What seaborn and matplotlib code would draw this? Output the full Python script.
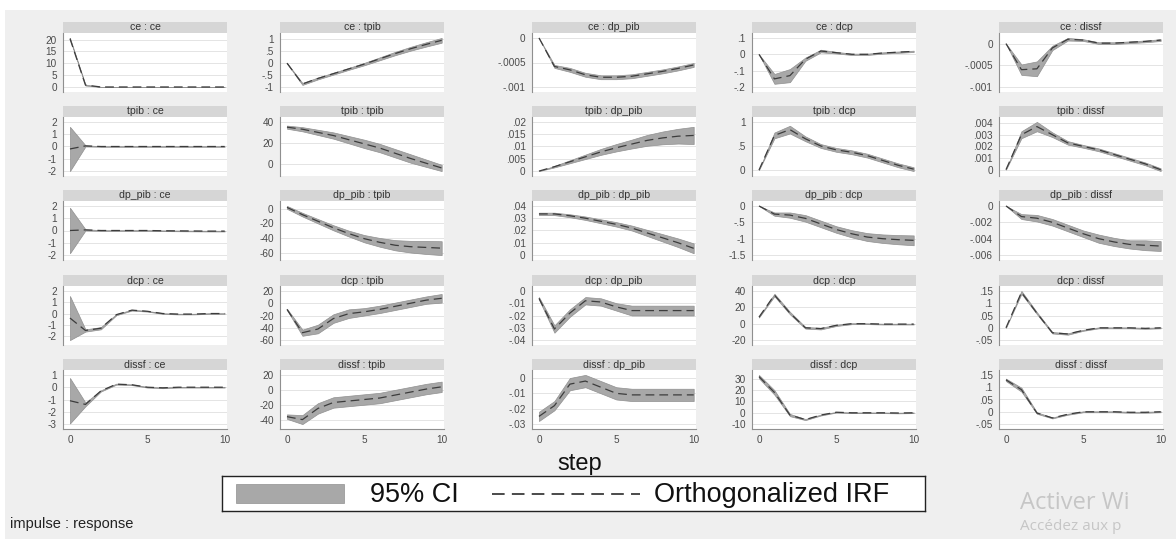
import numpy as np
import pandas as pd
import matplotlib
matplotlib.use("Agg")
import matplotlib.pyplot as plt
import seaborn as sns
from matplotlib.patches import Rectangle

# ---------------- data ----------------
steps = list(range(11))
variables = ["ce", "tpib", "dp_pib", "dcp", "dissf"]

# orthogonalized IRF estimates (impulse_response) and 95% CI half-widths
irf_ce_ce = [20.4, 0.8, 0, 0, 0, 0, 0, 0, 0, 0, 0]
hw_ce_ce = [0.3, 0.2, 0.05, 0.05, 0.05, 0.05, 0.05, 0.05, 0.05, 0.05, 0.05]
irf_ce_tpib = [0, -0.87, -0.64, -0.44, -0.24, -0.04, 0.18, 0.4, 0.6, 0.78, 0.95]
hw_ce_tpib = [0.01, 0.04, 0.04, 0.04, 0.04, 0.05, 0.06, 0.07, 0.08, 0.09, 0.1]
irf_ce_dp_pib = [0, -0.00058, -0.00065, -0.00075, -0.0008, -0.0008, -0.00078, -0.00073, -0.00068, -0.00062, -0.00055]
hw_ce_dp_pib = [0, 0.00003, 0.00004, 0.00004, 0.00004, 0.00004, 0.00004, 0.00004, 0.00004, 0.00004, 0.00004]
irf_ce_dcp = [0, -0.15, -0.13, -0.03, 0.02, 0.01, 0.0, 0.0, 0.008, 0.013, 0.018]
hw_ce_dcp = [0, 0.03, 0.04, 0.01, 0.008, 0.005, 0.004, 0.004, 0.004, 0.004, 0.004]
irf_ce_dissf = [0, -0.0006, -0.00058, -0.0001, 0.0001, 0.00008, 0.00001, 0.00001, 0.00003, 0.00005, 0.00008]
hw_ce_dissf = [0, 0.00012, 0.00017, 0.00005, 0.00003, 0.00002, 0.00002, 0.00002, 0.00002, 0.00002, 0.00002]

irf_tpib_ce = [-0.2, 0.05, 0, 0, 0, 0, 0, 0, 0, 0, 0]
hw_tpib_ce = [1.8, 0.05, 0.02, 0.02, 0.02, 0.02, 0.02, 0.02, 0.02, 0.02, 0.02]
irf_tpib_tpib = [35, 33, 30, 27, 23, 19, 15, 10, 5, 0.5, -4]
hw_tpib_tpib = [1.5, 2, 2.5, 3, 3.5, 4, 4, 4, 4, 3.5, 3]
irf_tpib_dp_pib = [0, 0.0018, 0.0038, 0.0058, 0.0078, 0.0095, 0.011, 0.0125, 0.0135, 0.0142, 0.0145]
hw_tpib_dp_pib = [0, 0.0003, 0.0006, 0.0009, 0.0012, 0.0015, 0.0018, 0.0022, 0.0026, 0.003, 0.0035]
irf_tpib_dcp = [0, 0.72, 0.84, 0.65, 0.5, 0.42, 0.37, 0.3, 0.2, 0.1, 0.02]
hw_tpib_dcp = [0, 0.06, 0.08, 0.05, 0.04, 0.04, 0.04, 0.04, 0.04, 0.04, 0.04]
irf_tpib_dissf = [0, 0.003, 0.0037, 0.003, 0.0023, 0.002, 0.0017, 0.0013, 0.0009, 0.0005, 0.0]
hw_tpib_dissf = [0, 0.0003, 0.0004, 0.0002, 0.00015, 0.00012, 0.00012, 0.00012, 0.00012, 0.00012, 0.00012]

irf_dp_pib_ce = [0, 0.05, 0, 0, 0, 0, -0.02, -0.03, -0.04, -0.05, -0.05]
hw_dp_pib_ce = [1.85, 0.05, 0.03, 0.03, 0.03, 0.03, 0.03, 0.03, 0.03, 0.03, 0.03]
irf_dp_pib_tpib = [2, -8, -17, -26, -34, -41, -46, -50, -52, -53, -54]
hw_dp_pib_tpib = [2, 2.5, 3, 3.5, 4, 5, 6, 7, 8, 9, 9.5]
irf_dp_pib_dp_pib = [0.0335, 0.0335, 0.032, 0.030, 0.0275, 0.025, 0.022, 0.018, 0.014, 0.01, 0.0055]
hw_dp_pib_dp_pib = [0.001, 0.001, 0.0012, 0.0014, 0.0016, 0.0018, 0.002, 0.0025, 0.003, 0.0035, 0.004]
irf_dp_pib_dcp = [0, -0.25, -0.28, -0.38, -0.55, -0.72, -0.85, -0.95, -1.0, -1.03, -1.05]
hw_dp_pib_dcp = [0, 0.05, 0.08, 0.1, 0.1, 0.1, 0.11, 0.12, 0.13, 0.14, 0.15]
irf_dp_pib_dissf = [0, -0.0013, -0.0015, -0.002, -0.0027, -0.0034, -0.004, -0.0044, -0.0047, -0.0048, -0.0049]
hw_dp_pib_dissf = [0, 0.0003, 0.0004, 0.0004, 0.0004, 0.0004, 0.0005, 0.0005, 0.0005, 0.0006, 0.0006]

irf_dcp_ce = [-0.4, -1.5, -1.3, -0.1, 0.3, 0.2, 0, -0.05, -0.05, 0, 0]
hw_dcp_ce = [1.95, 0.1, 0.1, 0.05, 0.04, 0.03, 0.03, 0.03, 0.03, 0.03, 0.03]
irf_dcp_tpib = [-10, -48, -42, -25, -17, -14, -10, -5, 0, 5, 8]
hw_dcp_tpib = [1, 5, 7, 7, 7, 6, 6, 6, 6, 6, 7]
irf_dcp_dp_pib = [-0.006, -0.031, -0.018, -0.008, -0.009, -0.013, -0.016, -0.016, -0.016, -0.016, -0.016]
hw_dcp_dp_pib = [0.001, 0.003, 0.003, 0.003, 0.003, 0.003, 0.004, 0.004, 0.004, 0.004, 0.004]
irf_dcp_dcp = [8, 35, 13, -5, -6, -2, 0, 0, -0.5, -0.5, -0.5]
hw_dcp_dcp = [0.5, 1.5, 1.5, 1, 1, 0.8, 0.6, 0.5, 0.5, 0.5, 0.5]
irf_dcp_dissf = [0, 0.145, 0.06, -0.02, -0.025, -0.01, 0.0, 0.0, 0.0, -0.002, 0.0]
hw_dcp_dissf = [0, 0.006, 0.004, 0.003, 0.003, 0.002, 0.002, 0.002, 0.002, 0.002, 0.002]

irf_dissf_ce = [-1.1, -1.4, -0.3, 0.25, 0.2, 0, -0.05, 0, 0, 0, 0]
hw_dissf_ce = [1.85, 0.15, 0.05, 0.04, 0.03, 0.03, 0.03, 0.03, 0.03, 0.03, 0.03]
irf_dissf_tpib = [-36, -40, -25, -17, -15, -13, -11, -7, -3, 1, 4]
hw_dissf_tpib = [3, 6, 7, 7, 7, 7, 7, 7, 7, 7, 7]
irf_dissf_dp_pib = [-0.025, -0.018, -0.004, -0.002, -0.006, -0.010, -0.011, -0.011, -0.011, -0.011, -0.011]
hw_dissf_dp_pib = [0.003, 0.003, 0.004, 0.004, 0.004, 0.004, 0.004, 0.004, 0.004, 0.004, 0.004]
irf_dissf_dcp = [32, 18, -2, -6, -2, 0.5, 0, 0, 0, -0.2, 0]
hw_dissf_dcp = [1.5, 2, 1, 0.5, 0.4, 0.3, 0.3, 0.3, 0.3, 0.3, 0.3]
irf_dissf_dissf = [0.13, 0.09, -0.005, -0.025, -0.01, 0, 0.0, 0, -0.002, -0.002, 0]
hw_dissf_dissf = [0.005, 0.008, 0.003, 0.002, 0.002, 0.002, 0.002, 0.002, 0.002, 0.002, 0.002]

# y-axis tick values per panel (impulse row, response column)
yticks = {
    ("ce", "ce"): [0, 5, 10, 15, 20],
    ("ce", "tpib"): [-1, -0.5, 0, 0.5, 1],
    ("ce", "dp_pib"): [-0.001, -0.0005, 0],
    ("ce", "dcp"): [-0.2, -0.1, 0, 0.1],
    ("ce", "dissf"): [-0.001, -0.0005, 0],
    ("tpib", "ce"): [-2, -1, 0, 1, 2],
    ("tpib", "tpib"): [0, 20, 40],
    ("tpib", "dp_pib"): [0, 0.005, 0.01, 0.015, 0.02],
    ("tpib", "dcp"): [0, 0.5, 1],
    ("tpib", "dissf"): [0, 0.001, 0.002, 0.003, 0.004],
    ("dp_pib", "ce"): [-2, -1, 0, 1, 2],
    ("dp_pib", "tpib"): [-60, -40, -20, 0],
    ("dp_pib", "dp_pib"): [0, 0.01, 0.02, 0.03, 0.04],
    ("dp_pib", "dcp"): [-1.5, -1, -0.5, 0],
    ("dp_pib", "dissf"): [-0.006, -0.004, -0.002, 0],
    ("dcp", "ce"): [-2, -1, 0, 1, 2],
    ("dcp", "tpib"): [-60, -40, -20, 0, 20],
    ("dcp", "dp_pib"): [-0.04, -0.03, -0.02, -0.01, 0],
    ("dcp", "dcp"): [-20, 0, 20, 40],
    ("dcp", "dissf"): [-0.05, 0, 0.05, 0.1, 0.15],
    ("dissf", "ce"): [-3, -2, -1, 0, 1],
    ("dissf", "tpib"): [-40, -20, 0, 20],
    ("dissf", "dp_pib"): [-0.03, -0.02, -0.01, 0],
    ("dissf", "dcp"): [-10, 0, 10, 20, 30],
    ("dissf", "dissf"): [-0.05, 0, 0.05, 0.1, 0.15],
}
xticks = [0, 5, 10]
legend_labels = ["95% CI", "Orthogonalized IRF"]

# ---------------- style ----------------
sns.set_theme(style="white")
plt.rcParams["font.family"] = ["Liberation Sans", "DejaVu Sans"]

W, H = 1176, 539
fig = plt.figure(figsize=(W / 100, H / 100), dpi=100, facecolor="#efefef")
fig.patches.append(Rectangle((0, 1 - 10 / H), 1, 10 / H, transform=fig.transFigure,
                             facecolor="white", edgecolor="none", zorder=-1))
fig.patches.append(Rectangle((0, 0), 5 / W, 1, transform=fig.transFigure,
                             facecolor="white", edgecolor="none", zorder=-1))

col_left = [63, 280, 532, 752, 999]
col_w = 164
row_top = [33, 117, 201, 286, 370]
row_h = 59
strip_h = 11

BAND = "#a8a8a8"
LINE = "#3c3c3c"
AXC = "#8f8f8f"
TXT = "#4a4a4a"


def stata_fmt(v):
    s = f"{v:g}"
    if s.startswith("0."):
        s = s[1:]
    elif s.startswith("-0."):
        s = "-" + s[2:]
    return s


g = globals()
for r, imp in enumerate(variables):
    for c, resp in enumerate(variables):
        irf = np.array(g[f"irf_{imp}_{resp}"], dtype=float)
        hw = np.array(g[f"hw_{imp}_{resp}"], dtype=float)
        df = pd.DataFrame({"step": steps, "irf": irf, "lo": irf - hw, "hi": irf + hw})

        ax = fig.add_axes([col_left[c] / W, 1 - (row_top[r] + row_h) / H,
                           col_w / W, row_h / H])
        ax.set_facecolor("white")
        ax.fill_between(df["step"], df["lo"], df["hi"], facecolor=BAND,
                        edgecolor="#909090", linewidth=0.5, zorder=2)
        sns.lineplot(data=df, x="step", y="irf", ax=ax, color=LINE,
                     linewidth=0.9, linestyle=(0, (7, 4)), zorder=3)

        tk = yticks[(imp, resp)]
        lo = min(min(tk), df["lo"].min())
        hi = max(max(tk), df["hi"].max())
        pad = 0.1 * (hi - lo)
        ax.set_ylim(lo - pad, hi + pad)
        ax.set_xlim(-0.45, 10.15)
        ax.set_yticks(tk)
        ax.set_yticklabels([stata_fmt(v) for v in tk], fontsize=7.2, color=TXT)
        ax.yaxis.grid(True, color="#e4e4e4", linewidth=0.7)
        ax.xaxis.grid(False)
        ax.set_axisbelow(True)
        ax.set_xlabel("")
        ax.set_ylabel("")
        for s in ["top", "right"]:
            ax.spines[s].set_visible(False)
        ax.spines["left"].set_color(AXC)
        ax.spines["left"].set_linewidth(0.8)
        ax.tick_params(axis="y", direction="out", length=3, width=0.6, color=AXC, pad=1.5)
        if r == len(variables) - 1:
            ax.spines["bottom"].set_color(AXC)
            ax.spines["bottom"].set_linewidth(0.8)
            ax.set_xticks(xticks)
            ax.set_xticklabels([str(v) for v in xticks], fontsize=7.2, color=TXT)
            ax.tick_params(axis="x", direction="out", length=3, width=0.6, color=AXC, pad=1.5)
        else:
            ax.spines["bottom"].set_visible(False)
            ax.set_xticks([])

        sh = strip_h / row_h
        ax.add_patch(Rectangle((0, 1), 1, sh, transform=ax.transAxes,
                               facecolor="#d6d6d6", edgecolor="none", clip_on=False))
        ax.text(0.5, 1 + sh / 2, f"{imp} : {resp}", transform=ax.transAxes,
                ha="center", va="center", fontsize=7.6, color="#333333")

fig.text(580 / W, 1 - 464 / H, "step", ha="center", va="center", fontsize=17, color="#111111")

# ---- legend box (layout in pixel units of its own small axes) ----
lx0, lx1, ly0, ly1 = 222, 925, 476, 511
lax = fig.add_axes([lx0 / W, 1 - ly1 / H, (lx1 - lx0) / W, (ly1 - ly0) / H])
lax.set_xlim(lx0, lx1)
lax.set_ylim(ly1, ly0)
lax.set_facecolor("white")
lax.set_xticks([])
lax.set_yticks([])
for s in lax.spines.values():
    s.set_visible(True)
    s.set_color("#222222")
    s.set_linewidth(1.0)
ymid = (ly0 + ly1) / 2
lax.add_patch(Rectangle((236, 484), 108, 19, facecolor=BAND, edgecolor="#909090", linewidth=0.5))
lax.text(370, ymid + 1, legend_labels[0], ha="left", va="center", fontsize=19.5, color="#111111")
lax.plot([492, 640], [ymid, ymid], color=LINE, linewidth=1.3, linestyle=(0, (7, 4)))
lax.text(654, ymid + 1, legend_labels[1], ha="left", va="center", fontsize=19.5, color="#111111")

fig.text(10 / W, 1 - 524 / H, "impulse : response", ha="left", va="center",
         fontsize=10.5, color="#222222")
fig.text(1020 / W, 1 - 503 / H, "Activer Wi", ha="left", va="center",
         fontsize=17, color="#c6c6c6", family=["Open Sans", "DejaVu Sans"])
fig.text(1020 / W, 1 - 527 / H, "Accédez aux p",
         ha="left", va="center", fontsize=11, color="#c6c6c6", family=["Open Sans", "DejaVu Sans"])

fig.savefig("out.png", dpi=100, facecolor=fig.get_facecolor())
